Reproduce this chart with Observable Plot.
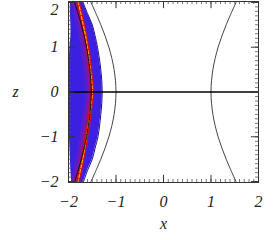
<!DOCTYPE html>
<html><head><meta charset="utf-8">
<script src="https://cdn.jsdelivr.net/npm/d3@7"></script>
<script src="https://cdn.jsdelivr.net/npm/@observablehq/plot@0.6"></script>
<style>body{margin:0;background:#fff}</style>
</head><body><div id="chart"></div>
<script>
// band (heat map) extents, per z level
const zLevels   = [-2.02,-1.75,-1.5,-1.25,-1,-0.5,0,0.5,1,1.25,1.5,1.75,2.02];
const blueLeft  = [-1.93,-1.95,-1.96,-1.97,-1.98,-1.99,-2.0,-1.99,-1.97,-1.95,-1.95,-1.96,-1.96];
const blueRight = [-1.69,-1.6,-1.5,-1.44,-1.38,-1.32,-1.29,-1.32,-1.39,-1.44,-1.5,-1.6,-1.7];
const ridgeX    = [-1.8,-1.75,-1.7,-1.66,-1.62,-1.55,-1.5,-1.54,-1.6,-1.64,-1.69,-1.74,-1.8];
// black curves
const zCurve     = [-2.1,-1.5,-1,-0.5,0,0.5,1,1.5,2.1];
const rightCurve = [1.57,1.32,1.15,1.04,1.0,1.04,1.15,1.32,1.57];
const leftOuter  = [-1.57,-1.32,-1.15,-1.04,-1.0,-1.04,-1.15,-1.32,-1.57];
const leftInner  = [-1.9,-1.73,-1.62,-1.55,-1.52,-1.55,-1.62,-1.73,-1.9];
// axes
const xTicks = [-2,-1,0,1,2];
const xTickLabels = ["\u22122","\u22121","0","1","2"];
const yTicks = [-2,-1,0,1,2];
const yTickLabels = ["\u22122","\u22121","0","1","2"];

const band = zLevels.map((z,i)=>({z, x1: blueLeft[i], x2: blueRight[i], r: ridgeX[i]}));
const curve = (xs)=> zCurve.map((z,i)=>({z, x: xs[i]}));

const X0=-2, X1=2, Y0=-2.02, Y1=2.02;
const xMinor = d3.range(-20,21).map(d=>d/10);
const yMinor = d3.range(-20,21).map(d=>d/10);
const mx = 0.063, Mx = 0.15, my = 0.067, My = 0.16;
const font = "Liberation Serif";

const plot = Plot.plot({
  width: 277, height: 240,
  marginLeft: 68, marginRight: 19, marginTop: 1, marginBottom: 58,
  x: {domain:[X0,X1], axis:null},
  y: {domain:[Y0,Y1], axis:null},
  style: {fontFamily: font, fontStyle:"italic", fontSize:"16px", background:"white"},
  marks: [
    Plot.areaX(band, {y:"z", x1:"x1", x2:"x2", fill:"#3b20e2", curve:"catmull-rom", clip:true}),
    Plot.areaX(band, {y:"z", x1:d=>d.r-0.14, x2:d=>d.r+0.07, fill:"#5a1ccc", curve:"catmull-rom", clip:true}),
    Plot.areaX(band, {y:"z", x1:d=>d.r-0.08, x2:d=>d.r+0.04, fill:"#7c18a8", curve:"catmull-rom", clip:true}),
    Plot.areaX(band, {y:"z", x1:d=>d.r-0.04, x2:d=>d.r+0.025, fill:"#a8105a", curve:"catmull-rom", clip:true}),
    Plot.line(band, {y:"z", x:"x2", stroke:"#1c0c90", strokeWidth:1, curve:"catmull-rom", clip:true}),
    Plot.line(band, {y:"z", x:"r", stroke:"#e01000", strokeWidth:3, curve:"catmull-rom", clip:true}),
    Plot.line(band, {y:"z", x:"r", stroke:"#ffd800", strokeWidth:1, strokeDasharray:"3,2", curve:"catmull-rom", clip:true}),
    Plot.line(curve(leftInner), {x:"x", y:"z", stroke:"#111", strokeWidth:1, curve:"catmull-rom", clip:true}),
    Plot.line(curve(leftOuter), {x:"x", y:"z", stroke:"#444", strokeWidth:1, curve:"catmull-rom", clip:true}),
    Plot.line(curve(rightCurve), {x:"x", y:"z", stroke:"#444", strokeWidth:1, curve:"catmull-rom", clip:true}),
    Plot.ruleY([0], {stroke:"black", strokeWidth:1.5}),
    // inward ticks on all four sides
    Plot.ruleX(xMinor, {x:d=>d, y1:Y0, y2:Y0+my, stroke:"#555", strokeWidth:0.8}),
    Plot.ruleX(xMinor, {x:d=>d, y1:Y1, y2:Y1-my, stroke:"#555", strokeWidth:0.8}),
    Plot.ruleX(xTicks, {x:d=>d, y1:Y0, y2:Y0+My, stroke:"#333", strokeWidth:1}),
    Plot.ruleX(xTicks, {x:d=>d, y1:Y1, y2:Y1-My, stroke:"#333", strokeWidth:1}),
    Plot.ruleY(yMinor, {y:d=>d, x1:X0, x2:X0+mx, stroke:"#555", strokeWidth:0.8}),
    Plot.ruleY(yMinor, {y:d=>d, x1:X1, x2:X1-mx, stroke:"#555", strokeWidth:0.8}),
    Plot.ruleY(yTicks, {y:d=>d, x1:X0, x2:X0+Mx, stroke:"#333", strokeWidth:1}),
    Plot.ruleY(yTicks, {y:d=>d, x1:X1, x2:X1-Mx, stroke:"#333", strokeWidth:1}),
    Plot.frame({stroke:"#333", strokeWidth:1}),
    Plot.text(xTicks, {x:d=>d, y:Y0, text:(d,i)=>xTickLabels[i], dy:19, fill:"#222"}),
    Plot.text(yTicks.slice(0,4), {y:d=>d, x:X0, text:(d,i)=>yTickLabels[i], dx:-10, textAnchor:"end", fill:"#222"}),
    Plot.text(yTicks.slice(4), {y:d=>d, x:X0, text:(d,i)=>yTickLabels[4+i], dx:-10, dy:7, textAnchor:"end", fill:"#222"}),
    Plot.text(["x"], {x:0, y:Y0, text:d=>d, dy:41, fill:"#222"}),
    Plot.text(["z"], {x:X0, y:0, text:d=>d, dx:-53, fill:"#222"})
  ]
});
document.getElementById("chart").appendChild(plot);
</script></body></html>
